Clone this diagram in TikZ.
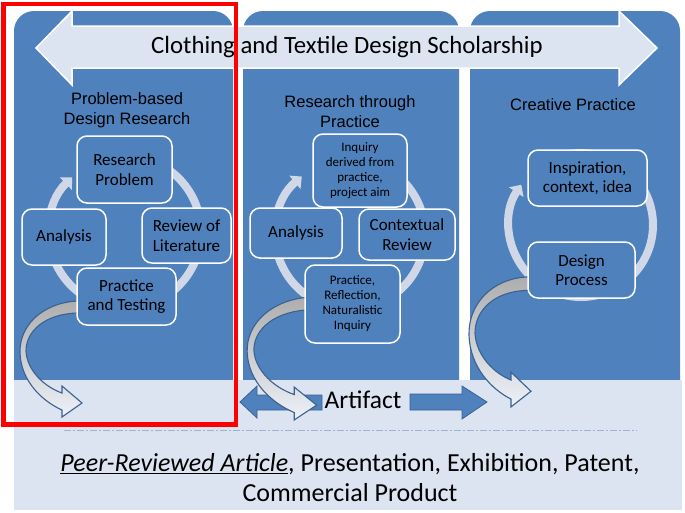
\documentclass[tikz,border=0pt]{standalone}
\usepackage{fontspec}
\setmainfont{Carlito}
\newfontfamily\arialfont{Liberation Sans}
\usetikzlibrary{positioning, arrows.meta}

\definecolor{colblue}{HTML}{4F81BD}
\definecolor{lineblue}{HTML}{3B6190}
\definecolor{paleblue}{HTML}{DCE4F1}
\definecolor{ringgrey}{HTML}{D0D8E8}
\definecolor{dashgrey}{HTML}{9FB3D1}

\tikzset{
  bendarrow/.pic={
    \shadedraw[top color=black!32, middle color=paleblue, bottom color=paleblue!50!white, draw=lineblue, line width=1.1pt]
      (10,0) -- (0,0) .. controls (-35,2) and (-58,25) .. (-57,52)
      .. controls (-56,80) and (-35,100) .. (-15,109) -- (-15,116) -- (5,102)
      -- (-15,85) -- (-15,92) .. controls (-32,86) and (-50,70) .. (-51,50)
      .. controls (-51,30) and (-32,13) .. (0,12) -- (10,12) -- cycle;
  }
}

\begin{document}
\begin{tikzpicture}[x=1pt, y=-1pt,
  stage/.style={rectangle, draw=white, line width=1.5pt, rounded corners=10pt, fill=colblue, align=center, inner sep=1pt, font=\fontsize{17}{19.5}\selectfont},
  small/.style={font=\fontsize{13}{15}\selectfont},
  coltitle/.style={font=\arialfont\fontsize{16.5}{20}\selectfont, align=center, inner sep=0pt},
  ringarrow/.style={draw=ringgrey, line width=8pt, -{Triangle[width=17pt, length=9pt]}},
  blockarrow/.style={fill=colblue, draw=lineblue, line width=0.8pt}]
  \useasboundingbox (0,0) rectangle (685,512);
  \fill[white] (0,0) rectangle (685,512);

  % Columns and lower band
  \fill[colblue, rounded corners=20pt] (14,11) rectangle (233,400);
  \fill[colblue, rounded corners=20pt] (243,11) rectangle (459,400);
  \fill[colblue, rounded corners=20pt] (470,11) rectangle (680,400);
  \fill[paleblue] (14,380) rectangle (682,510);

  % Scholarship banner
  \filldraw[fill=paleblue, draw=white, line width=1.5pt] (36,48) -- (72,11) -- (72,26) -- (619,26) -- (619,11) -- (657,48) -- (619,85) -- (619,68) -- (72,68) -- (72,85) -- cycle;
  \node (scholarship) at (347,47) {\fontsize{24.8}{28}\selectfont Clothing and Textile Design Scholarship};

  % Column titles
  \node[coltitle] (pbdr) at (127,110) {Problem-based\\Design Research};
  \node[coltitle] (rtp) at (350,112) {Research through\\Practice};
  \node[coltitle] (cp) at (573,105) {Creative Practice};

  % Cycles
  \draw[ringarrow] ([shift={(-124:76)}]125,232) arc[start angle=-124, end angle=226, radius=76];
  \draw[ringarrow] ([shift={(-116:75)}]350,234) arc[start angle=-116, end angle=230, radius=75];
  \draw[ringarrow] ([shift={(-135:72)}]581,225) arc[start angle=-135, end angle=214, radius=72];

  % Artifact
  \filldraw[blockarrow] (240,402) -- (257,386) -- (257,395) -- (322,395) -- (322,410) -- (257,410) -- (257,418) -- cycle;
  \filldraw[blockarrow] (410,394) -- (462,394) -- (462,386) -- (487,402) -- (462,419) -- (462,410) -- (410,410) -- cycle;
  \node (artifact) at (363,400) {\fontsize{25.5}{29}\selectfont Artifact};

  % Curved arrows out of each column
  \pic at (77,301) {bendarrow};
  \pic[xscale=1.12, yscale=1.06] at (311,297) {bendarrow};
  \pic[yscale=1.12] at (526,277) {bendarrow};

  % Problem-based design research
  \node[stage, minimum width=95pt, minimum height=67pt] (problem) at (124.5,169.5) {Research\\Problem};
  \node[stage, minimum width=89pt, minimum height=55pt] (literature) at (186.5,235.5) {Review of\\Literature};
  \node[stage, minimum width=84pt, minimum height=56pt] (analysisA) at (64,237) {Analysis};
  \node[stage, minimum width=99pt, minimum height=57pt] (testing) at (126.5,296.5) {Practice\\and Testing};

  % Research through practice
  \node[stage, small, minimum width=94pt, minimum height=73pt] (inquiry) at (360,170.5) {Inquiry\\derived from\\practice,\\project aim};
  \node[stage, minimum width=92pt, minimum height=50pt] (analysisB) at (296,233) {Analysis};
  \node[stage, minimum width=96pt, minimum height=51pt] (contextual) at (407,234.5) {Contextual\\Review};
  \node[stage, small, minimum width=95pt, minimum height=78pt] (reflection) at (352.5,304) {Practice,\\Reflection,\\Naturalistic\\Inquiry};

  % Creative practice
  \node[stage, minimum width=119pt, minimum height=56pt] (inspiration) at (587.5,178) {Inspiration,\\context, idea};
  \node[stage, minimum width=107pt, minimum height=56pt] (process) at (581.5,270) {Design\\Process};

  % Outputs
  \draw[dashgrey, line width=1pt, dash pattern=on 7pt off 2pt on 2pt off 2pt] (64,430) -- (637,430);
  \node[align=center, font=\fontsize{26}{30}\selectfont] (outputs) at (350,478) {\underline{\textit{Peer-Reviewed Article}}, Presentation, Exhibition, Patent,\\Commercial Product};

  \draw[red, line width=4.2pt] (3.5,3.8) rectangle (236,424.5);
\end{tikzpicture}
\end{document}
